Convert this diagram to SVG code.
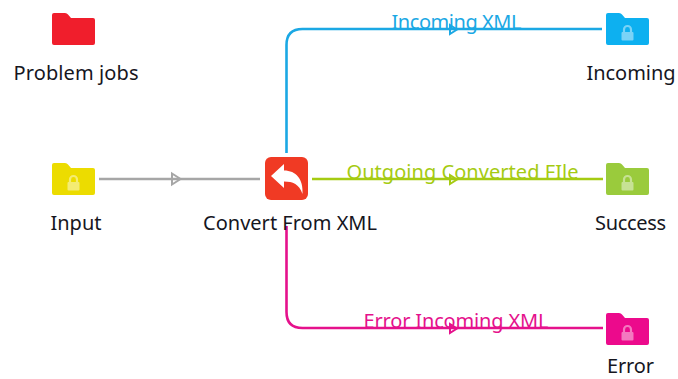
<svg xmlns="http://www.w3.org/2000/svg" xmlns:xlink="http://www.w3.org/1999/xlink" width="678" height="379" viewBox="0 0 678 379">
<style>
text{font-family:"Noto Sans","DejaVu Sans",sans-serif;font-size:20px;text-anchor:middle;fill:#16161e}
.c{fill:none;stroke-width:2.600}
.a{stroke-width:2}
.lock{fill:#fff;fill-opacity:.45}
.shack{fill:none;stroke:#fff;stroke-opacity:.45;stroke-width:2.200}
</style>
<defs>
<path id="folder" d="M52 15q0-2 2-2h11q2 0 3 1.500l3 3.500h22q2 0 2 2v23q0 2-2 2H54q-2 0-2-2z"/>
<g id="lock"><path class="shack" d="M70 32v-2.500a3.500 3.500 0 0 1 7 0V32"/><rect class="lock" x="67.500" y="32" width="12" height="8.500" rx="1"/></g>
</defs>
<rect width="678" height="379" fill="#fff"/>
<g id="connectors">
<path class="c" stroke="#a6a6a6" d="M99 179H260"/>
<path class="c a" stroke="#a6a6a6" d="M172 173.500L180.500 179L172 184.500z" fill="#fff"/>
<path class="c" stroke="#1ba8e4" d="M286.500 153V45q0-16 16-16H602"/>
<path class="c a" stroke="#1ba8e4" d="M450 25L457 29.500L450 34z" fill="#fff" fill-opacity=".6"/>
<path class="c" stroke="#a5cb12" d="M312 179H603"/>
<path class="c a" stroke="#a5cb12" d="M450 175L457 179.500L450 184z" fill="#fff" fill-opacity=".6"/>
<path class="c" stroke="#e5118c" d="M286.500 226V312q0 16 16 16H603"/>
<path class="c a" stroke="#e5118c" d="M450 324L457 328.500L450 333z" fill="#fff" fill-opacity=".6"/>
<text x="456.500" y="29" style="fill:#1ba8e4" textLength="130">Incoming XML</text>
<text x="462.500" y="179" style="fill:#a5cb12" textLength="232">Outgoing Converted FIle</text>
<text x="456" y="328" style="fill:#e5118c" textLength="185">Error Incoming XML</text>
</g>
<g id="problem-jobs"><use xlink:href="#folder" fill="#f01e2c"/><text x="76" y="80" textLength="125">Problem jobs</text></g>
<g id="input"><use xlink:href="#folder" y="150" fill="#ecdc00"/><use xlink:href="#lock" y="150"/><text x="76" y="230" textLength="51">Input</text></g>
<g id="convert">
<rect x="265" y="157" width="43" height="43" rx="6" fill="#f03a24"/>
<path d="M271 176L284 164V170.500C296 170.500 303.500 179 302.500 194C299 184 293 181.500 284 181.500V188z" fill="#fff"/>
<text x="290" y="230" textLength="174">Convert From XML</text></g>
<g id="incoming"><use xlink:href="#folder" x="554" fill="#0db0f0"/><use xlink:href="#lock" x="554"/><text x="631" y="80" textLength="89">Incoming</text></g>
<g id="success"><use xlink:href="#folder" x="554" y="150" fill="#9acb3c"/><use xlink:href="#lock" x="554" y="150"/><text x="630.500" y="230" textLength="71">Success</text></g>
<g id="error"><use xlink:href="#folder" x="554" y="300" fill="#ec0a8c"/><use xlink:href="#lock" x="554" y="300"/><text x="630.500" y="373" textLength="47">Error</text></g>
</svg>
